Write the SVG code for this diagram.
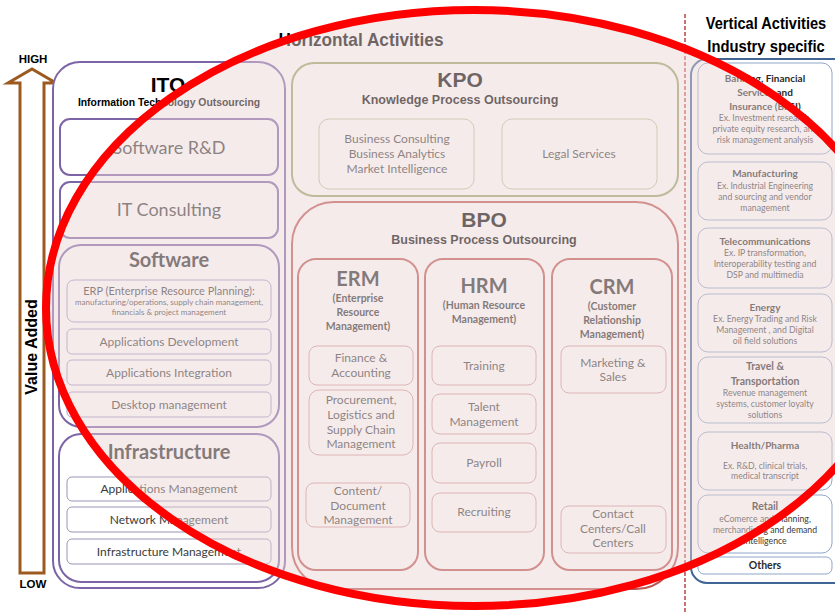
<svg xmlns="http://www.w3.org/2000/svg" width="835" height="612" viewBox="0 0 835 612">
<style>
.a{font-family:"Liberation Sans",Arial,sans-serif;font-weight:bold;fill:#000;text-anchor:middle}
.c{font-family:Lato,"Open Sans",sans-serif;fill:#3a3a3a;text-anchor:middle}
.cb{font-family:Lato,"Open Sans",sans-serif;font-weight:bold;fill:#2a2a2a;text-anchor:middle}
.ito{fill:#fff;stroke:#7D64A6;stroke-width:2}
.itos{fill:#fff;stroke:#A996C6;stroke-width:1}
.infs{fill:#fff;stroke:#9C91B6;stroke-width:1}
.kpo{fill:#fff;stroke:#98A468;stroke-width:2}
.kpos{fill:#fff;stroke:#C2C09A;stroke-width:1}
.bpo{fill:#fff;stroke:#BD5652;stroke-width:2}
.bpos{fill:#fff;stroke:#D49A98;stroke-width:1}
.vert{fill:#fff;stroke:#3F6696;stroke-width:2}
.verts{fill:#fff;stroke:#8FA7C8;stroke-width:1}
</style>
<rect width="835" height="612" fill="#fff"/>

<g id="value-axis">
<path d="M20,573 L20,83 L8,83 L32,69 L56,83 L44,83 L44,573 Z" fill="#fff" stroke="#9C5A20" stroke-width="3" stroke-linejoin="miter"/>
<text class="a" x="33" y="63" font-size="11.5">HIGH</text>
<text class="a" x="33" y="588" font-size="11.5">LOW</text>
<text class="a" font-size="16" transform="translate(37,347) rotate(-90)">Value Added</text>
</g>

<g id="ito">
<rect class="ito" x="53" y="62" width="232" height="526" rx="27"/>
<text class="a" x="168" y="92" font-size="21">ITO</text>
<text class="a" x="169" y="106" font-size="10.4">Information Technology Outsourcing</text>
<g id="software-rd"><rect class="ito" x="60" y="119" width="218" height="56" rx="10"/>
<text class="c" x="169" y="154" font-size="18">Software R&amp;D</text></g>
<g id="it-consulting"><rect class="ito" x="60" y="182" width="218" height="56" rx="10"/>
<text class="c" x="169" y="216" font-size="18">IT Consulting</text></g>
<g id="software"><rect class="ito" x="59" y="245" width="220" height="182" rx="22"/>
<text class="cb" x="169" y="267" font-size="20">Software</text>
<g id="erp"><rect class="itos" x="67" y="280" width="204" height="42" rx="7"/>
<text class="c" x="169" y="295" font-size="11">ERP (Enterprise Resource Planning):</text>
<text class="c" x="169" y="305" font-size="8">manufacturing/operations, supply chain management,</text>
<text class="c" x="169" y="315" font-size="8">financials &amp; project management</text></g>
<g id="app-dev"><rect class="itos" x="67" y="329" width="204" height="25" rx="5"/>
<text class="c" x="169" y="346" font-size="12">Applications Development</text></g>
<g id="app-int"><rect class="itos" x="67" y="360" width="204" height="25" rx="5"/>
<text class="c" x="169" y="377" font-size="12">Applications Integration</text></g>
<g id="desktop"><rect class="itos" x="67" y="392" width="204" height="25" rx="5"/>
<text class="c" x="169" y="409" font-size="12">Desktop management</text></g>
</g>
<g id="infrastructure"><rect class="ito" x="59" y="434" width="220" height="148" rx="22"/>
<text class="cb" x="169" y="459" font-size="20">Infrastructure</text>
<g id="app-mgmt"><rect class="infs" x="67" y="477" width="204" height="24" rx="5"/>
<text class="c" x="169" y="493" font-size="12" fill="#111">Applications Management</text></g>
<g id="net-mgmt"><rect class="infs" x="67" y="507" width="204" height="25" rx="5"/>
<text class="c" x="169" y="524" font-size="12">Network Management</text></g>
<g id="infra-mgmt"><rect class="infs" x="67" y="539" width="204" height="25" rx="5"/>
<text class="c" x="169" y="556" font-size="12">Infrastructure Management</text></g>
</g>
</g>

<text class="a" x="361" y="46" font-size="19" textLength="165" lengthAdjust="spacingAndGlyphs">Horizontal Activities</text>

<g id="kpo">
<rect class="kpo" x="292" y="63" width="386" height="133" rx="22"/>
<text class="a" x="460" y="87" font-size="21">KPO</text>
<text class="a" x="460" y="104" font-size="12.5">Knowledge Process Outsourcing</text>
<g id="business-consulting"><rect class="kpos" x="319" y="119" width="155" height="70" rx="10"/>
<text class="c" x="397" y="143" font-size="12">Business Consulting</text>
<text class="c" x="397" y="158" font-size="12">Business Analytics</text>
<text class="c" x="397" y="173" font-size="12">Market Intelligence</text></g>
<g id="legal-services"><rect class="kpos" x="502" y="119" width="155" height="70" rx="10"/>
<text class="c" x="579" y="158" font-size="12">Legal Services</text></g>
</g>

<g id="bpo">
<rect class="bpo" x="292" y="202" width="386" height="387" rx="42"/>
<text class="a" x="484" y="227" font-size="21">BPO</text>
<text class="a" x="484" y="244" font-size="12.5">Business Process Outsourcing</text>
<g id="erm"><rect class="bpo" x="298" y="259" width="120" height="311" rx="18"/>
<text class="cb" x="358" y="286" font-size="20">ERM</text>
<text class="cb" x="358" y="302" font-size="10.5">(Enterprise</text>
<text class="cb" x="358" y="316" font-size="10.5">Resource</text>
<text class="cb" x="358" y="330" font-size="10.5">Management)</text>
<g id="finance"><rect class="bpos" x="309" y="346" width="104" height="39" rx="8"/>
<text class="c" x="361" y="362" font-size="12">Finance &amp;</text>
<text class="c" x="361" y="377" font-size="12">Accounting</text></g>
<g id="procurement"><rect class="bpos" x="309" y="390" width="104" height="65" rx="10"/>
<text class="c" x="361" y="404" font-size="12">Procurement,</text>
<text class="c" x="361" y="419" font-size="12">Logistics and</text>
<text class="c" x="361" y="434" font-size="12">Supply Chain</text>
<text class="c" x="361" y="448" font-size="12">Management</text></g>
<g id="content"><rect class="bpos" x="306" y="483" width="104" height="44" rx="8"/>
<text class="c" x="358" y="495" font-size="12">Content/</text>
<text class="c" x="358" y="510" font-size="12">Document</text>
<text class="c" x="358" y="524" font-size="12">Management</text></g>
</g>
<g id="hrm"><rect class="bpo" x="425" y="259" width="119" height="311" rx="18"/>
<text class="cb" x="484" y="293" font-size="20">HRM</text>
<text class="cb" x="484" y="309" font-size="10.5">(Human Resource</text>
<text class="cb" x="484" y="323" font-size="10.5">Management)</text>
<g id="training"><rect class="bpos" x="432" y="346" width="104" height="39" rx="8"/>
<text class="c" x="484" y="370" font-size="12">Training</text></g>
<g id="talent"><rect class="bpos" x="432" y="394" width="104" height="40" rx="8"/>
<text class="c" x="484" y="411" font-size="12">Talent</text>
<text class="c" x="484" y="426" font-size="12">Management</text></g>
<g id="payroll"><rect class="bpos" x="432" y="443" width="104" height="40" rx="8"/>
<text class="c" x="484" y="467" font-size="12">Payroll</text></g>
<g id="recruiting"><rect class="bpos" x="432" y="493" width="104" height="39" rx="8"/>
<text class="c" x="484" y="516" font-size="12">Recruiting</text></g>
</g>
<g id="crm"><rect class="bpo" x="552" y="259" width="120" height="311" rx="18"/>
<text class="cb" x="612" y="294" font-size="20">CRM</text>
<text class="cb" x="612" y="310" font-size="10.5">(Customer</text>
<text class="cb" x="612" y="324" font-size="10.5">Relationship</text>
<text class="cb" x="612" y="338" font-size="10.5">Management)</text>
<g id="marketing"><rect class="bpos" x="561" y="346" width="105" height="47" rx="8"/>
<text class="c" x="613" y="367" font-size="12">Marketing &amp;</text>
<text class="c" x="613" y="381" font-size="12">Sales</text></g>
<g id="contact"><rect class="bpos" x="561" y="506" width="105" height="47" rx="8"/>
<text class="c" x="613" y="518" font-size="12">Contact</text>
<text class="c" x="613" y="533" font-size="12">Centers/Call</text>
<text class="c" x="613" y="547" font-size="12">Centers</text></g>
</g>
</g>

<line x1="685" y1="14" x2="685" y2="612" stroke="#C0504D" stroke-width="1.6" stroke-dasharray="4,2"/>

<g id="vertical">
<text class="a" font-size="17" transform="translate(766,29) scale(0.86,1)">Vertical Activities</text>
<text class="a" font-size="17" transform="translate(766,52) scale(0.87,1)">Industry specific</text>
<rect class="vert" x="691" y="59" width="160" height="524" rx="16"/>
<g id="bfsi"><rect class="verts" x="698" y="63" width="134" height="91" rx="10"/>
<text class="cb" x="765" y="82" font-size="10">Banking, Financial</text>
<text class="cb" x="765" y="96" font-size="10">Services and</text>
<text class="cb" x="765" y="110" font-size="10">Insurance (BFSI)</text>
<text class="c" x="765" y="121" font-size="8.7">Ex. Investment research,</text>
<text class="c" x="765" y="132" font-size="8.7">private equity research, and</text>
<text class="c" x="765" y="143" font-size="8.7">risk management analysis</text></g>
<g id="manufacturing"><rect class="verts" x="698" y="162" width="134" height="58" rx="10"/>
<text class="cb" x="765" y="177" font-size="10">Manufacturing</text>
<text class="c" x="765" y="189" font-size="8.7">Ex. Industrial Engineering</text>
<text class="c" x="765" y="200" font-size="8.7">and sourcing and vendor</text>
<text class="c" x="765" y="211" font-size="8.7">management</text></g>
<g id="telecom"><rect class="verts" x="698" y="228" width="134" height="60" rx="10"/>
<text class="cb" x="765" y="245" font-size="10">Telecommunications</text>
<text class="c" x="765" y="256" font-size="8.7">Ex. IP transformation,</text>
<text class="c" x="765" y="267" font-size="8.7">Interoperability testing and</text>
<text class="c" x="765" y="278" font-size="8.7">DSP and multimedia</text></g>
<g id="energy"><rect class="verts" x="698" y="294" width="134" height="58" rx="10"/>
<text class="cb" x="765" y="311" font-size="10">Energy</text>
<text class="c" x="765" y="322" font-size="8.7">Ex. Energy Trading and Risk</text>
<text class="c" x="765" y="333" font-size="8.7">Management , and  Digital</text>
<text class="c" x="765" y="344" font-size="8.7">oil field solutions</text></g>
<g id="travel"><rect class="verts" x="698" y="357" width="134" height="66" rx="10"/>
<text class="cb" x="765" y="370" font-size="10.5">Travel &amp;</text>
<text class="cb" x="765" y="385" font-size="10.5">Transportation</text>
<text class="c" x="765" y="396" font-size="8.7">Revenue management</text>
<text class="c" x="765" y="407" font-size="8.7">systems, customer loyalty</text>
<text class="c" x="765" y="418" font-size="8.7">solutions</text></g>
<g id="health"><rect class="verts" x="698" y="432" width="134" height="58" rx="10"/>
<text class="cb" x="765" y="449" font-size="10">Health/Pharma</text>
<text class="c" x="765" y="469" font-size="8.7">Ex. R&amp;D, clinical trials,</text>
<text class="c" x="765" y="479" font-size="8.7">medical transcript</text></g>
<g id="retail"><rect class="verts" x="698" y="495" width="134" height="58" rx="10"/>
<text class="cb" x="765" y="510" font-size="10.5">Retail</text>
<text class="c" x="765" y="522" font-size="8.7">eComerce and Planning,</text>
<text class="c" x="765" y="533" font-size="8.7">merchandising and demand</text>
<text class="c" x="765" y="544" font-size="8.7">intelligence</text></g>
<g id="others"><rect class="verts" x="698" y="557" width="134" height="17" rx="6" stroke="#5A7FB0"/>
<text class="cb" x="765" y="569" font-size="10.5" fill="#000">Others</text></g>
</g>

<g id="connectors"></g>

<ellipse id="highlight" cx="474" cy="308" rx="428" ry="298" fill="#EAD5D5" fill-opacity="0.47" stroke="#FF0000" stroke-width="8"/>
</svg>
